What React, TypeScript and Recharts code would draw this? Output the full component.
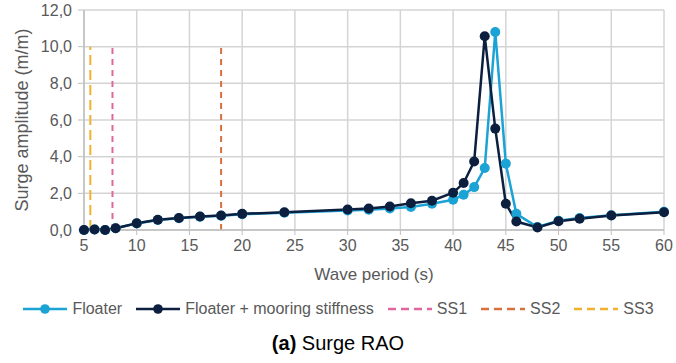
import React from 'react';
import {
  LineChart,
  Line,
  XAxis,
  YAxis,
  CartesianGrid,
} from 'recharts';

// wave periods (s)
const periods = [5, 6, 7, 8, 10, 12, 14, 16, 18, 20, 24, 30, 32, 34, 36, 38, 40, 41, 42, 43, 44, 45, 46, 48, 50, 52, 55, 60];
// surge amplitude (m/m)
const floater = [0.0, 0.03, 0.0, 0.1, 0.36, 0.55, 0.64, 0.72, 0.78, 0.86, 0.94, 1.07, 1.1, 1.17, 1.25, 1.43, 1.65, 1.92, 2.34, 3.38, 10.8, 3.62, 0.88, 0.16, 0.5, 0.65, 0.8, 1.0];
const mooring = [0.0, 0.03, 0.0, 0.1, 0.37, 0.56, 0.65, 0.74, 0.79, 0.88, 0.97, 1.12, 1.17, 1.28, 1.46, 1.6, 2.03, 2.56, 3.74, 10.57, 5.53, 1.43, 0.46, 0.14, 0.48, 0.61, 0.79, 0.97];

// sea states: peak period (s)
const ss1 = 7.7;
const ss2 = 18.0;
const ss3 = 5.6;
const ssTop = 10;

const xTicks = [5, 10, 15, 20, 25, 30, 35, 40, 45, 50, 55, 60];
const xMinor = Array.from({ length: 56 }, (_, i) => 5 + i);
const yTicks = [0, 2, 4, 6, 8, 10, 12];
const yMinor = Array.from({ length: 31 }, (_, i) => +(i * 0.4).toFixed(1));

const rows = periods.map((p, i) => ({ x: p, floater: floater[i], mooring: mooring[i] }));
const ssLine = (x: number) => [{ x, y: 0 }, { x, y: ssTop }];

const FONT = '"Liberation Sans", Arial, sans-serif';
const TXT = '#595959';
const GRID = '#d4d4d4';

const C_FLOATER = '#1ba3d6';
const C_MOORING = '#0c1f3f';
const C_SS1 = '#e0669e';
const C_SS2 = '#d9713f';
const C_SS3 = '#f0b12f';

const legendItems = [
  { label: 'Floater', color: C_FLOATER, dashed: false },
  { label: 'Floater + mooring stiffness', color: C_MOORING, dashed: false },
  { label: 'SS1', color: C_SS1, dashed: true },
  { label: 'SS2', color: C_SS2, dashed: true },
  { label: 'SS3', color: C_SS3, dashed: true },
];

function ChartLegend() {
  return (
    <div style={{ position: 'absolute', left: 0, top: 300, width: 676, display: 'flex', justifyContent: 'center', alignItems: 'center', fontFamily: FONT, fontSize: 16, color: TXT }}>
      {legendItems.map((it, i) => (
        <div key={it.label} style={{ display: 'flex', alignItems: 'center', marginLeft: i === 0 ? 0 : 13 }}>
          <svg width={46} height={12} style={{ marginRight: 4 }}>
            <line x1={1} y1={6} x2={45} y2={6} stroke={it.color} strokeWidth={2.5} strokeDasharray={it.dashed ? '8 5' : undefined} />
            {!it.dashed && <circle cx={23} cy={6} r={4.8} fill={it.color} />}
          </svg>
          <span>{it.label}</span>
        </div>
      ))}
    </div>
  );
}

export default function App() {
  const tick = { fontSize: 16, fill: TXT, fontFamily: FONT };
  return (
    <div style={{ position: 'absolute', left: 0, top: 0, width: 676, height: 363, background: '#fff' }}>
      <LineChart width={676} height={290} data={rows} margin={{ top: 10, right: 12, left: 0, bottom: 0 }}>
        <CartesianGrid stroke={GRID} strokeWidth={1.5} horizontalValues={yTicks} verticalValues={xTicks} />
        <XAxis
          xAxisId="minor"
          dataKey="x"
          type="number"
          domain={[5, 60]}
          ticks={xMinor}
          tick={false}
          tickSize={4}
          axisLine={false}
          tickLine={{ stroke: '#bfbfbf' }}
          height={0}
        />
        <XAxis
          dataKey="x"
          type="number"
          domain={[5, 60]}
          ticks={xTicks}
          interval={0}
          tick={tick}
          tickSize={5}
          tickMargin={5}
          tickLine={{ stroke: '#bfbfbf' }}
          axisLine={{ stroke: '#bfbfbf', strokeWidth: 1.5 }}
          height={60}
          label={{ value: 'Wave period (s)', position: 'insideBottom', offset: 10, fill: TXT, fontSize: 17, fontFamily: FONT }}
        />
        <YAxis
          yAxisId="minor"
          type="number"
          domain={[0, 12]}
          ticks={yMinor}
          tick={false}
          tickSize={3}
          axisLine={false}
          tickLine={{ stroke: '#bfbfbf' }}
          width={0}
        />
        <YAxis
          type="number"
          domain={[0, 12]}
          ticks={yTicks}
          interval={0}
          tickFormatter={(v: number) => v.toFixed(1).replace('.', ',')}
          tick={tick}
          tickSize={6}
          tickMargin={6}
          tickLine={{ stroke: '#bfbfbf' }}
          axisLine={{ stroke: '#bfbfbf', strokeWidth: 1.5 }}
          width={84}
          label={{ value: 'Surge amplitude  (m/m)', angle: -90, position: 'insideLeft', offset: 22, fill: TXT, fontSize: 18, fontFamily: FONT, style: { textAnchor: 'middle' } }}
        />
        <Line data={ssLine(ss1)} dataKey="y" name="SS1" stroke={C_SS1} strokeWidth={2} strokeDasharray="6 5" dot={false} isAnimationActive={false} />
        <Line data={ssLine(ss2)} dataKey="y" name="SS2" stroke={C_SS2} strokeWidth={2} strokeDasharray="6 5" dot={false} isAnimationActive={false} />
        <Line data={ssLine(ss3)} dataKey="y" name="SS3" stroke={C_SS3} strokeWidth={2} strokeDasharray="10 5" dot={false} isAnimationActive={false} />
        <Line dataKey="floater" name="Floater" stroke={C_FLOATER} strokeWidth={2.5} dot={{ r: 5, fill: C_FLOATER, stroke: C_FLOATER, strokeWidth: 0 }} isAnimationActive={false} />
        <Line dataKey="mooring" name="Floater + mooring stiffness" stroke={C_MOORING} strokeWidth={2.5} dot={{ r: 5, fill: C_MOORING, stroke: C_MOORING, strokeWidth: 0 }} isAnimationActive={false} />
      </LineChart>
      <ChartLegend />
      <div style={{ position: 'absolute', left: 0, top: 332, width: 676, textAlign: 'center', fontFamily: FONT, fontSize: 20, color: '#000' }}>
        <b>(a)</b> Surge RAO
      </div>
    </div>
  );
}
